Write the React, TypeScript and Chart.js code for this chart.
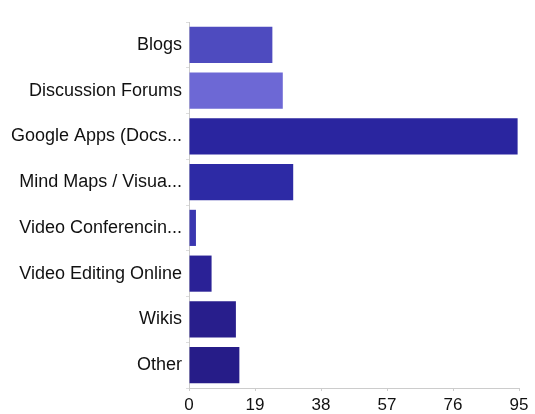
import React, { useEffect, useRef } from "react";
import { Chart, registerables } from "chart.js";

Chart.register(...registerables);

const categories = [
  "Blogs",
  "Discussion Forums",
  "Google Apps (Docs...",
  "Mind Maps / Visua...",
  "Video Conferencin...",
  "Video Editing Online",
  "Wikis",
  "Other",
];
const values = [24, 27, 94.6, 30, 2, 6.5, 13.5, 14.5];
const barColors = [
  "#4e4bbf",
  "#6d68d5",
  "#2a259f",
  "#2d2aa5",
  "#3a36b0",
  "#2a2196",
  "#281e8c",
  "#261c88",
];
const xTicks = [0, 19, 38, 57, 76, 95];

export default function App() {
  const ref = useRef<HTMLCanvasElement>(null);
  useEffect(() => {
    if (!ref.current) return;
    const chart = new Chart(ref.current, {
      type: "bar",
      data: {
        labels: categories,
        datasets: [
          {
            data: values,
            backgroundColor: barColors,
            borderWidth: 0,
            categoryPercentage: 0.79,
            barPercentage: 1,
          },
        ],
      },
      options: {
        indexAxis: "y",
        animation: false,
        responsive: false,
        maintainAspectRatio: false,
        layout: { padding: { top: 22, right: 16, left: 0, bottom: 0 } },
        plugins: { legend: { display: false }, tooltip: { enabled: false } },
        scales: {
          x: {
            min: 0,
            max: 95,
            afterBuildTicks: (scale: any) => {
              scale.ticks = xTicks.map((v) => ({ value: v }));
            },
            afterFit: (scale: any) => {
              scale.height = 26;
            },
            grid: {
              drawOnChartArea: false,
              drawTicks: true,
              tickLength: 3,
              color: "#cccccc",
            },
            border: { color: "#cccccc", width: 1 },
            ticks: {
              color: "#111111",
              padding: 4,
              font: { family: "'Liberation Sans', Arial, sans-serif", size: 17 },
            },
          },
          y: {
            afterFit: (scale: any) => {
              scale.width = 189;
            },
            grid: {
              drawOnChartArea: false,
              drawTicks: true,
              tickLength: 3,
              offset: true,
              color: "#dddddd",
            },
            border: { color: "#cccccc", width: 1 },
            ticks: {
              color: "#111111",
              padding: 4,
              autoSkip: false,
              font: { family: "'Liberation Sans', Arial, sans-serif", size: 18 },
            },
          },
        },
      },
    });
    return () => chart.destroy();
  }, []);
  return (
    <div style={{ position: "fixed", left: 0, top: 0, width: 535, height: 414, background: "#fff" }}>
      <canvas ref={ref} width={535} height={414} style={{ width: 535, height: 414 }} />
    </div>
  );
}
